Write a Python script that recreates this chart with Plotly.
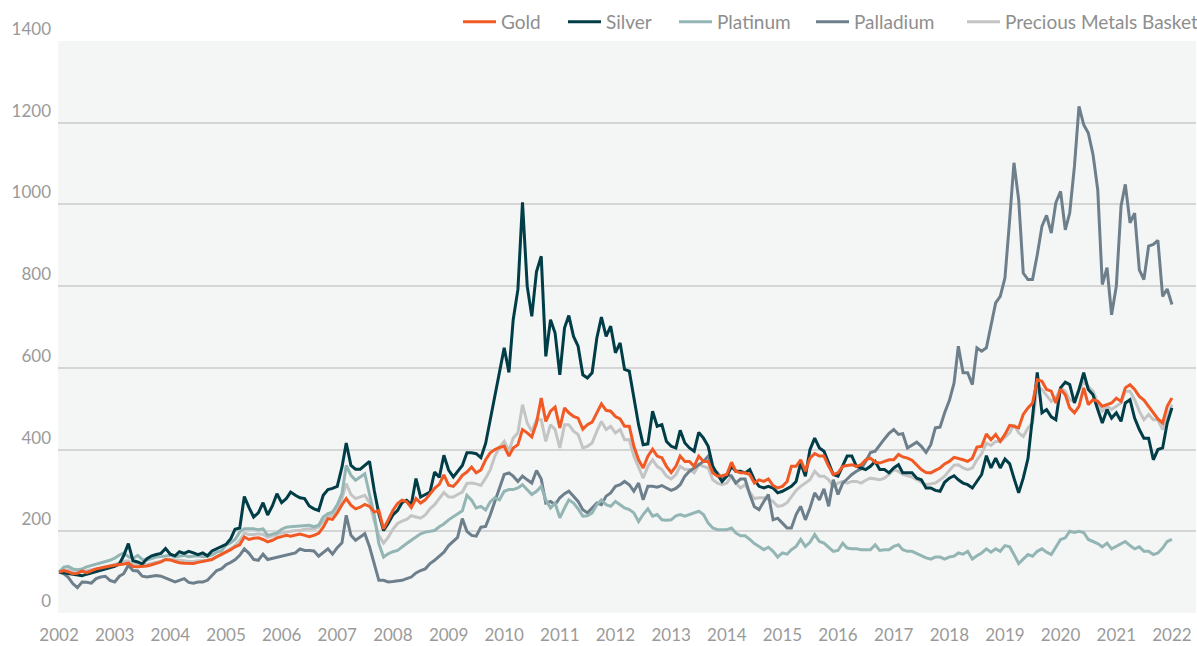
import pandas as pd
import plotly.graph_objects as go

# Monthly index values (Jan 2002 = 100), Jan 2002 .. Jan 2022
dates = pd.date_range("2002-01-01", periods=241, freq="MS")

gold = [
    100, 104, 101, 96, 97, 103, 99, 104, 108, 110, 113, 115,
    117, 118, 120, 122, 114, 113, 114, 115, 118, 121, 125, 131,
    130, 126, 123, 122, 121, 121, 124, 126, 129, 131, 138, 143,
    148, 155, 162, 167, 186, 180, 183, 184, 180, 174, 178, 184,
    187, 190, 188, 190, 193, 190, 187, 190, 195, 210, 231, 229,
    245, 265, 280, 264, 255, 259, 266, 261, 247, 251, 206, 227,
    251, 268, 276, 272, 258, 280, 269, 277, 290, 305, 315, 338,
    313, 310, 321, 337, 345, 357, 343, 350, 375, 392, 400, 405,
    408, 384, 404, 412, 449, 441, 431, 465, 526, 469, 494, 504,
    453, 502, 490, 481, 477, 450, 461, 467, 490, 512, 496, 494,
    481, 475, 457, 457, 408, 375, 355, 384, 401, 384, 380, 359,
    344, 359, 384, 371, 371, 359, 384, 371, 371, 343, 335, 336,
    339, 369, 347, 343, 343, 339, 318, 326, 322, 328, 312, 306,
    310, 322, 359, 359, 375, 347, 379, 390, 384, 384, 359, 339,
    343, 359, 361, 363, 359, 363, 375, 379, 369, 367, 371, 375,
    375, 388, 382, 379, 374, 363, 351, 344, 343, 349, 355, 365,
    371, 381, 379, 375, 371, 379, 406, 408, 438, 424, 437, 420,
    437, 459, 457, 453, 486, 502, 514, 571, 567, 547, 543, 514,
    548, 534, 502, 490, 506, 551, 510, 522, 518, 506, 510, 514,
    526, 518, 551, 559, 547, 530, 521, 506, 490, 475, 465, 506,
    526,
]

silver = [
    100, 98, 96, 94, 93, 91, 95, 98, 102, 105, 108, 110,
    114, 120, 140, 170, 128, 125, 120, 133, 140, 143, 146, 158,
    144, 140, 150, 146, 151, 147, 143, 147, 140, 152, 157, 162,
    168, 182, 205, 208, 285, 258, 235, 245, 270, 240, 262, 292,
    270, 280, 296, 288, 282, 280, 262, 255, 251, 288, 302, 305,
    310, 357, 416, 361, 352, 352, 361, 371, 300, 243, 202, 219,
    240, 251, 270, 276, 265, 329, 284, 290, 296, 345, 332, 386,
    350, 333, 345, 361, 392, 392, 390, 380, 415, 475, 530, 595,
    649, 589, 718, 792, 1005, 800, 726, 836, 873, 628, 718, 685,
    583, 698, 728, 677, 653, 583, 575, 588, 673, 724, 677, 702,
    637, 661, 596, 592, 522, 461, 412, 414, 494, 457, 461, 420,
    408, 404, 447, 416, 404, 396, 442, 428, 408, 359, 339, 322,
    335, 359, 347, 347, 343, 351, 326, 310, 306, 310, 306, 294,
    298, 304, 310, 322, 367, 335, 400, 428, 404, 396, 367, 339,
    335, 359, 384, 384, 359, 355, 351, 359, 371, 351, 351, 343,
    355, 363, 343, 343, 343, 330, 326, 306, 306, 300, 298, 320,
    330, 336, 326, 318, 314, 306, 322, 339, 385, 355, 379, 355,
    377, 365, 330, 294, 330, 378, 480, 589, 490, 498, 480, 473,
    551, 565, 559, 514, 547, 588, 547, 534, 498, 465, 498, 477,
    490, 469, 514, 522, 477, 449, 428, 428, 375, 400, 404, 465,
    502,
]

platinum = [
    100, 112, 114, 108, 106, 108, 113, 116, 119, 122, 125, 129,
    134, 142, 147, 138, 133, 141, 131, 130, 133, 137, 138, 140,
    141, 138, 140, 141, 138, 139, 140, 138, 139, 142, 149, 152,
    166, 172, 180, 198, 206, 206, 206, 204, 206, 190, 194, 196,
    205, 210, 211, 212, 212, 214, 215, 211, 215, 235, 243, 247,
    265, 292, 361, 337, 325, 333, 341, 290, 240, 170, 137, 145,
    150, 153, 162, 170, 178, 186, 194, 198, 200, 202, 211, 218,
    228, 235, 243, 250, 288, 276, 257, 261, 252, 272, 282, 277,
    298, 302, 302, 306, 314, 302, 290, 298, 310, 277, 257, 269,
    233, 257, 277, 269, 255, 237, 238, 245, 265, 277, 265, 261,
    273, 265, 257, 253, 245, 224, 241, 255, 237, 241, 228, 227,
    228, 238, 241, 237, 241, 245, 249, 241, 220, 208, 204, 204,
    204, 208, 196, 189, 189, 180, 170, 163, 155, 161, 151, 137,
    147, 144, 155, 163, 180, 163, 173, 192, 175, 171, 162, 151,
    153, 171, 159, 157, 157, 155, 155, 155, 167, 153, 155, 155,
    163, 167, 155, 151, 151, 145, 140, 135, 132, 137, 137, 132,
    137, 139, 147, 144, 151, 132, 140, 147, 157, 149, 157, 151,
    165, 162, 143, 121, 132, 143, 139, 151, 157, 149, 143, 163,
    180, 184, 200, 197, 200, 197, 180, 175, 170, 162, 171, 157,
    163, 171, 175, 165, 157, 162, 151, 151, 143, 147, 159, 175,
    180,
]

palladium = [
    100, 96, 88, 72, 62, 76, 75, 73, 84, 88, 90, 80,
    76, 90, 96, 117, 104, 103, 90, 88, 90, 92, 90, 86,
    80, 76, 80, 84, 75, 73, 76, 76, 80, 92, 104, 108,
    118, 124, 130, 141, 157, 146, 131, 129, 144, 131, 134, 137,
    139, 142, 144, 147, 157, 153, 153, 152, 139, 149, 157, 144,
    160, 172, 239, 190, 178, 186, 194, 162, 121, 80, 80, 76,
    77, 78, 80, 84, 88, 98, 104, 108, 121, 129, 140, 149,
    165, 176, 185, 231, 200, 190, 188, 210, 212, 240, 275, 307,
    339, 343, 335, 322, 335, 326, 318, 349, 328, 269, 273, 265,
    282, 292, 298, 286, 273, 253, 245, 257, 269, 265, 286, 294,
    310, 314, 322, 314, 298, 318, 277, 310, 310, 308, 312, 306,
    300, 305, 314, 335, 347, 355, 363, 371, 384, 351, 343, 326,
    338, 335, 318, 328, 328, 290, 260, 253, 273, 290, 228, 232,
    220, 208, 208, 241, 261, 228, 257, 294, 277, 304, 261, 326,
    290, 318, 328, 339, 347, 353, 371, 393, 396, 412, 426, 440,
    449, 437, 439, 404, 410, 418, 408, 393, 412, 453, 455, 490,
    520, 563, 653, 588, 588, 559, 649, 641, 649, 702, 759, 775,
    820, 963, 1102, 1012, 832, 816, 816, 877, 947, 973, 930, 1004,
    1032, 938, 979, 1093, 1240, 1195, 1175, 1122, 1036, 804, 845, 730,
    800, 996, 1049, 955, 979, 840, 816, 898, 902, 912, 775, 793,
    755,
]

basket = [
    100, 104, 105, 101, 99, 101, 104, 106, 108, 110, 113, 115,
    119, 123, 127, 128, 119, 121, 119, 119, 121, 124, 127, 131,
    131, 129, 129, 128, 126, 126, 128, 128, 129, 132, 137, 142,
    150, 157, 165, 178, 195, 192, 192, 194, 192, 185, 188, 192,
    196, 198, 200, 202, 202, 205, 206, 206, 210, 225, 235, 240,
    255, 280, 317, 290, 280, 285, 288, 270, 225, 190, 171, 185,
    205, 219, 225, 229, 238, 235, 232, 240, 255, 265, 280, 295,
    284, 284, 290, 296, 317, 318, 316, 312, 330, 350, 384, 405,
    420, 396, 428, 441, 510, 465, 445, 473, 473, 420, 461, 449,
    404, 461, 461, 445, 437, 404, 408, 416, 445, 469, 449, 457,
    441, 449, 424, 424, 384, 355, 330, 359, 375, 359, 351, 335,
    328, 339, 359, 351, 351, 343, 363, 359, 355, 326, 318, 314,
    318, 335, 318, 306, 314, 295, 280, 282, 282, 278, 273, 261,
    263, 270, 285, 300, 310, 318, 326, 347, 335, 335, 326, 310,
    318, 322, 318, 322, 322, 318, 325, 330, 328, 326, 330, 339,
    351, 347, 339, 335, 333, 326, 320, 314, 316, 318, 326, 335,
    349, 362, 363, 355, 351, 355, 375, 390, 416, 410, 420, 420,
    430, 441, 461, 441, 432, 453, 465, 555, 547, 534, 518, 526,
    551, 543, 522, 518, 547, 565, 555, 543, 514, 494, 506, 498,
    506, 514, 543, 543, 522, 494, 473, 486, 473, 473, 449, 481,
    510,
]

series_names = ["Gold", "Silver", "Platinum", "Palladium", "Precious Metals Basket"]
series_values = [gold, silver, platinum, palladium, basket]
series_colors = ["#f15a24", "#003d47", "#93b5b4", "#6e7f8c", "#c4c4c4"]
legend_ids = ["legend", "legend2", "legend3", "legend4", "legend5"]

# page layout (pixels)
W, H = 1197, 646
PL, PR, PT, PB = 58, 1196, 41, 613
legend_left_px = [458, 563, 674, 811, 962]

fig = go.Figure()
for i in [4, 3, 2, 1, 0]:
    fig.add_trace(go.Scatter(
        x=dates, y=series_values[i], name=series_names[i], mode="lines",
        line=dict(color=series_colors[i], width=3),
        legend=legend_ids[i], hoverinfo="skip",
    ))

font_family = "Lato, 'Open Sans', sans-serif"
legend_y = 1 + (PT - 22) / (PB - PT)
legend_style = dict(orientation="h", xanchor="left", y=legend_y, yanchor="middle",
                    itemwidth=33, bgcolor="rgba(0,0,0,0)", borderwidth=0,
                    font=dict(family=font_family, size=19, color="#8e8e8e"))
legends = {}
for lid, lx in zip(legend_ids, legend_left_px):
    legends[lid] = dict(x=(lx - PL) / (PR - PL), **legend_style)

fig.update_layout(
    width=W, height=H,
    margin=dict(l=PL, r=W - PR, t=PT, b=H - PB, autoexpand=False),
    paper_bgcolor="white", plot_bgcolor="#f4f6f6",
    font=dict(family=font_family, size=17, color="#9a9a9a"),
    showlegend=True,
    **legends,
)
fig.update_xaxes(type="date", range=["2001-12-25", "2022-06-08"], dtick="M12",
                 tick0="2002-01-01", tickformat="%Y", showgrid=False, zeroline=False,
                 showline=False, ticks="outside", ticklen=7, tickcolor="rgba(0,0,0,0)",
                 tickfont=dict(size=17, color="#9a9a9a"))
fig.update_yaxes(range=[0, 1400], dtick=200, tick0=0, gridcolor="#d5d5d5", gridwidth=1.5,
                 zeroline=False, showline=False, ticklabelposition="outside top",
                 ticklabelstandoff=6, tickfont=dict(size=17, color="#9a9a9a"))

fig.write_html("out.html", config={"displayModeBar": False},
               post_script="document.body.style.margin='0px';")
